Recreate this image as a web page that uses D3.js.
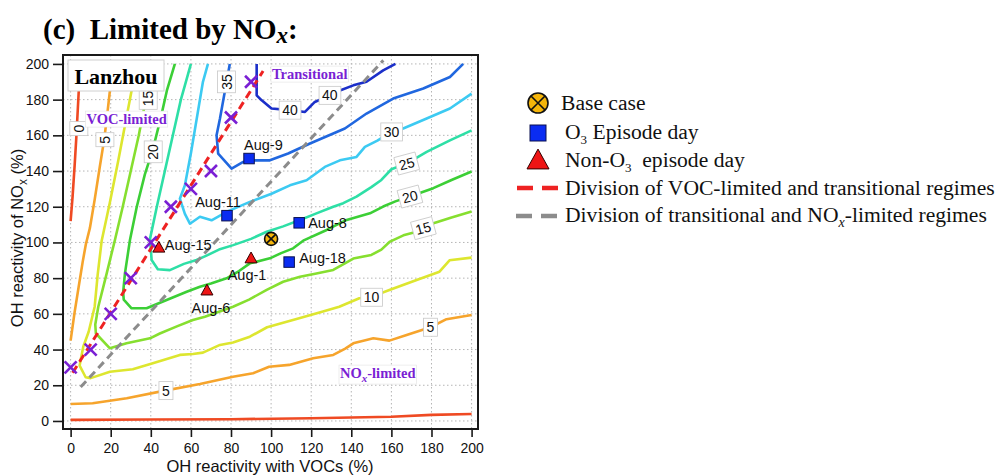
<!DOCTYPE html>
<html>
<head>
<meta charset="utf-8">
<script src="https://cdn.jsdelivr.net/npm/d3@7"></script>
<style>
  body { margin: 0; background: #fff; }
  svg { display: block; }
</style>
</head>
<body>
<div id="chart"></div>
<script>
// ---- data ----
const xTicks = [0, 20, 40, 60, 80, 100, 120, 140, 160, 180, 200];
const yTicks = [0, 20, 40, 60, 80, 100, 120, 140, 160, 180, 200];

// contour polylines, [OH reactivity with VOCs, OH reactivity of NOx]
const c0Left = [[0,112],[1,126],[2,143],[2.8,158],[3.6,175],[4.3,190],[5,200]];
const c0Bottom = [[0,0.6],[40,0.8],[80,1],[120,1.5],[160,2.4],[180,3.4],[200,3.9]];
const c5Left = [[0,45],[2,61],[4,75],[6,89],[7.6,99],[9.6,108],[12,124],[14.5,142],[16.8,158],[18.3,172],[19.6,185],[21.5,200]];
const c5Bottom = [[0,9.5],[11,9.9],[28,12.7],[47,17],[64.5,20.7],[81,24.8],[91,26.7],[99,30.4],[109,31.4],[121,35.1],[131,37],[137,40.5],[141,43.5],[151,46.3],[159,45],[167.6,48.2],[179.5,52.5],[187.5,57],[200,59.4]];
const c10 = [[33,200],[30.4,185],[27,165],[23.8,146],[19.5,122],[15.5,101],[13.5,82],[12,64],[9,50],[6.3,41.6],[5,34],[4.5,31],[7.5,24.5],[10,24],[19.6,27.6],[31,29],[41,32.3],[54.5,37],[61,37.5],[66,38.3],[74.5,42.6],[81,44],[89.4,47.2],[98,52.5],[106,55],[114,57.5],[125,61],[134,64],[144,68.7],[150,69.5],[159,73.4],[172.6,79],[184,83.6],[189,90],[200,91.5]];
const c15 = [[41,200],[37.5,180],[34,160],[30,140],[26,120],[22.1,101.4],[18,82.7],[13.8,64],[12.3,54],[12.6,49],[19.6,40.7],[27.9,43.5],[39.6,46.3],[44.5,49],[53,53],[61,56.6],[67,58.4],[81,64],[89,68],[97.8,73.4],[106,78],[114.4,80.8],[122,82.5],[131,84.6],[136.8,88.3],[141,91],[150,93],[155,96],[159.3,100.5],[166,104],[172.6,106],[181,110.7],[190,114],[200,117.3]];
const c20 = [[52,200],[48,185],[45,170],[41,152],[37,138],[33,120],[29.6,101.4],[27.1,82.7],[26.2,72],[26.5,68],[30.4,63.1],[37.9,63.1],[47.9,67.8],[57.9,72.4],[64.5,75.2],[70,77],[77.8,79.9],[84,84],[89.4,88.3],[99.4,91.1],[105,94],[111,96.7],[116,101],[127.7,107],[137.7,112.6],[149.3,116.3],[155.9,120.1],[162,123],[169.2,125.7],[180.9,130.4],[190,135],[200,139.7]];
const c25 = [[60,200],[57,188],[55,180],[51,160],[47,140],[43,120],[39.6,102],[40.4,90.2],[43.5,85],[49.5,84.5],[56.5,88],[62.8,90.2],[67.5,92.5],[74,96],[81.1,98.5],[90,102],[97.8,106],[106,109],[114.4,112.6],[122,116],[131,120],[136,122],[142.6,125.7],[150,131],[155,135],[160,141],[167.6,144.2],[177.6,150.7],[189.2,157.2],[200,162.8]];
const c30 = [[68.5,200],[66,190],[63,170],[60,150],[57,132],[54.5,124.5],[57,116],[59.5,110.5],[64.5,114.4],[70.3,112.4],[77.8,117.1],[89.4,122.7],[100.2,127.3],[109.4,132],[117.7,134.8],[126.8,142.3],[134.3,146],[142.6,147.9],[146.8,153.5],[153,157],[160.1,161.9],[165.9,163.8],[177.6,169.4],[189.2,175],[200,183.4]];
const c35 = [[79.4,200],[77.8,190],[74.5,169.4],[72.8,160],[73.6,149.8],[80.3,141.4],[86.1,145.1],[92,146],[99.4,146],[108.5,149.8],[119.4,155.4],[131,161],[136.8,163.8],[147.6,172.2],[160.9,180.6],[175.9,186.2],[189.2,192.7],[195.8,200]];
const c40 = [[92.8,200],[92.8,182.4],[95.3,179.6],[100.2,175],[109.4,174.1],[116.9,173.1],[121.8,178.7],[129.3,182.4],[134,185],[141,188],[147.6,190],[155.9,196.4],[162,200]];

// contour label: [level, x, y, rotation]
const contourLabels = [
  [0, 4.1, 163.7, -90], [5, 17.1, 157.5, -90], [15, 38.7, 180.6, -90], [20, 41.2, 150.7, -90],
  [35, 77.8, 189.9, -90], [40, 109.4, 174.1, 0], [40, 129.3, 182.4, 0], [30, 160.1, 161.9, 0],
  [25, 167.6, 144.2, -15], [20, 169.2, 125.7, -15], [15, 175.9, 108, -15],
  [10, 150.1, 69.3, 0], [5, 179.5, 52.5, 0], [5, 47.5, 17, 0]
];

// regime division lines
const vocDivision = [[1, 27], [96, 196]];
const noxDivision = [[5, 19], [156, 202]];

// isopleth ridge points (x markers)
const ridgePoints = [[0,30],[10,40],[20,60],[30,80],[40,100],[50,120],[60,130],[70,140],[80,170],[90,190]];

const baseCase = [100, 102];
const episodeDays = [["Aug-9", 89, 147], ["Aug-11", 78, 115], ["Aug-8", 114, 111], ["Aug-18", 109, 89]];
const nonEpisodeDays = [["Aug-15", 44, 97], ["Aug-1", 90, 91], ["Aug-6", 68, 73]];

// ---- drawing ----
const W = 1004, H = 475;
const plot = {left: 63, right: 478, top: 55, bottom: 429};

const levelColor = {0: "#ef4a23", 5: "#f6a42c", 10: "#dde62f", 15: "#86df2f", 20: "#3ccf36",
  25: "#2edfa6", 30: "#3ccaf2", 35: "#2067df", 40: "#1b2fc9"};

const contours = [
  {level: 0, pts: c0Left}, {level: 0, pts: c0Bottom},
  {level: 5, pts: c5Left}, {level: 5, pts: c5Bottom},
  {level: 10, pts: c10}, {level: 15, pts: c15}, {level: 20, pts: c20},
  {level: 25, pts: c25}, {level: 30, pts: c30}, {level: 35, pts: c35}, {level: 40, pts: c40}
];

const svg = d3.select("#chart").append("svg").attr("width", W).attr("height", H);

const x = d3.scaleLinear().domain([-3.8, 203.2]).range([plot.left, plot.right]);
const y = d3.scaleLinear().domain([-4.5, 205]).range([plot.bottom, plot.top]);

const sans = "'Liberation Sans', Arial, sans-serif";
const serif = "'Liberation Serif', 'Times New Roman', serif";

// title
const title = svg.append("text").attr("x", 43).attr("y", 39)
  .attr("font-family", serif).attr("font-weight", "bold").attr("font-size", 29)
  .style("white-space", "pre").attr("xml:space", "preserve");
title.append("tspan").text("(c)  Limited by NO");
title.append("tspan").attr("font-style", "italic").attr("font-size", 23).attr("dy", 4).text("x");
title.append("tspan").attr("dy", -4).text(":");

svg.append("defs").append("clipPath").attr("id", "clip")
  .append("rect").attr("x", plot.left).attr("y", plot.top)
  .attr("width", plot.right - plot.left).attr("height", plot.bottom - plot.top);

// grid
const grid = svg.append("g").attr("stroke", "#b5b5b5").attr("stroke-width", 1).attr("stroke-dasharray", "1.5,2.5");
grid.selectAll("line.gx").data(xTicks).join("line")
  .attr("x1", d => x(d)).attr("x2", d => x(d)).attr("y1", plot.top).attr("y2", plot.bottom);
grid.selectAll("line.gy").data(yTicks).join("line")
  .attr("y1", d => y(d)).attr("y2", d => y(d)).attr("x1", plot.left).attr("x2", plot.right);

const inner = svg.append("g").attr("clip-path", "url(#clip)");
const line = d3.line().x(d => x(d[0])).y(d => y(d[1]));

inner.selectAll("path.contour").data(contours).join("path")
  .attr("class", "contour")
  .attr("d", d => line(d.pts))
  .attr("fill", "none")
  .attr("stroke", d => levelColor[d.level])
  .attr("stroke-width", 2.6)
  .attr("stroke-linejoin", "round");

// division lines
inner.append("path").attr("d", line(noxDivision)).attr("fill", "none")
  .attr("stroke", "#8c8c8c").attr("stroke-width", 3).attr("stroke-dasharray", "8,5");
inner.append("path").attr("d", line(vocDivision)).attr("fill", "none")
  .attr("stroke", "#ee2222").attr("stroke-width", 3).attr("stroke-dasharray", "8,5");

// contour labels
const lab = inner.selectAll("g.clab").data(contourLabels).join("g")
  .attr("transform", d => `translate(${x(d[1])},${y(d[2])}) rotate(${d[3]})`);
lab.append("rect");
lab.append("text").text(d => d[0])
  .attr("text-anchor", "middle").attr("dy", "0.36em")
  .attr("font-family", sans).attr("font-size", 14).attr("fill", "#111");
lab.each(function () {
  const g = d3.select(this);
  const b = g.select("text").node().getBBox();
  g.select("rect").attr("x", b.x - 3).attr("y", -9).attr("width", b.width + 6).attr("height", 18)
    .attr("fill", "#fff").attr("stroke", "#c8c8c8").attr("stroke-width", 0.8);
});

// region labels
function boxedLabel(px, py, build) {
  const g = inner.append("g");
  const r = g.append("rect");
  const t = g.append("text").attr("x", px).attr("y", py).attr("dy", "0.35em")
    .attr("font-family", serif).attr("font-weight", "bold").attr("font-size", 14.5).attr("fill", "#7a1fd4");
  build(t);
  const b = t.node().getBBox();
  r.attr("x", b.x - 1).attr("y", b.y).attr("width", b.width + 2).attr("height", b.height)
    .attr("fill", "#fff").attr("stroke", "#e2e2e2").attr("stroke-width", 0.6);
}
boxedLabel(86.5, 119, t => t.text("VOC-limited"));
boxedLabel(272, 74, t => t.text("Transitional"));
boxedLabel(340, 373, t => {
  t.append("tspan").text("NO");
  t.append("tspan").attr("font-style", "italic").attr("font-size", 11).attr("dy", 4).text("x");
  t.append("tspan").attr("dy", -4).text("-limited");
});

// ridge x markers
const xm = inner.selectAll("g.xm").data(ridgePoints).join("g")
  .attr("transform", d => `translate(${x(d[0])},${y(d[1])})`)
  .attr("stroke", "#7a1fd4").attr("stroke-width", 2.6);
xm.append("line").attr("x1", -6).attr("y1", -6).attr("x2", 6).attr("y2", 6);
xm.append("line").attr("x1", -6).attr("y1", 6).attr("x2", 6).attr("y2", -6);

// markers
function drawCross(g, px, py, r) {
  g.append("circle").attr("cx", px).attr("cy", py).attr("r", r)
    .attr("fill", "#f5b50a").attr("stroke", "#111").attr("stroke-width", 1.6);
  const k = r * 0.7;
  g.append("path").attr("d", `M${px-k},${py-k}L${px+k},${py+k}M${px-k},${py+k}L${px+k},${py-k}`)
    .attr("stroke", "#111").attr("stroke-width", 1.6);
}
function drawSquare(g, px, py, s) {
  g.append("rect").attr("x", px - s / 2).attr("y", py - s / 2).attr("width", s).attr("height", s)
    .attr("fill", "#0a2cf2").attr("stroke", "#0a1150").attr("stroke-width", 1);
}
function drawTri(g, px, py, s) {
  const h = s * 0.9;
  g.append("path").attr("d", `M${px},${py-h*0.6}L${px+s/2},${py+h*0.4}L${px-s/2},${py+h*0.4}Z`)
    .attr("fill", "#ee1515").attr("stroke", "#300").attr("stroke-width", 1);
}

const mk = svg.append("g");
drawCross(mk, x(baseCase[0]), y(baseCase[1]), 6.5);
episodeDays.forEach(d => drawSquare(mk, x(d[1]), y(d[2]), 10.5));
nonEpisodeDays.forEach(d => drawTri(mk, x(d[1]), y(d[2]), 12));

// day labels, offset in pixels from each marker
const dayOffsets = {"Aug-9": [-5, -14, "start"], "Aug-11": [-9, -14, "middle"], "Aug-8": [9, 0, "start"],
  "Aug-18": [10, -4, "start"], "Aug-15": [6, -3, "start"], "Aug-1": [-4, 16, "middle"], "Aug-6": [4, 17, "middle"]};
episodeDays.concat(nonEpisodeDays).forEach(d => {
  const o = dayOffsets[d[0]];
  mk.append("text").attr("x", x(d[1]) + o[0]).attr("y", y(d[2]) + o[1]).attr("dy", "0.35em")
    .attr("text-anchor", o[2]).attr("font-family", sans).attr("font-size", 14.5).attr("fill", "#111")
    .text(d[0]);
});

// Lanzhou box
svg.append("rect").attr("x", 68).attr("y", 60).attr("width", 96).attr("height", 31)
  .attr("fill", "#fff").attr("stroke", "#d0d0d0").attr("stroke-width", 1);
svg.append("text").attr("x", 116).attr("y", 76).attr("dy", "0.35em").attr("text-anchor", "middle")
  .attr("font-family", serif).attr("font-weight", "bold").attr("font-size", 22).text("Lanzhou");

// frame
svg.append("rect").attr("x", plot.left).attr("y", plot.top)
  .attr("width", plot.right - plot.left).attr("height", plot.bottom - plot.top)
  .attr("fill", "none").attr("stroke", "#1a1a1a").attr("stroke-width", 2);

// axes
const xAxis = svg.append("g").attr("transform", `translate(0,${plot.bottom})`)
  .call(d3.axisBottom(x).tickValues(xTicks).tickSize(8).tickPadding(6));
const yAxis = svg.append("g").attr("transform", `translate(${plot.left},0)`)
  .call(d3.axisLeft(y).tickValues(yTicks).tickSize(10).tickPadding(4));
[xAxis, yAxis].forEach(a => {
  a.select(".domain").remove();
  a.selectAll(".tick line").attr("stroke", "#1a1a1a").attr("stroke-width", 1.6);
  a.selectAll(".tick text").attr("font-family", sans).attr("font-size", 14).attr("fill", "#111");
});

svg.append("text").attr("x", 270).attr("y", 472).attr("text-anchor", "middle")
  .attr("font-family", sans).attr("font-size", 16.5).attr("fill", "#111")
  .text("OH reactivity with VOCs (%)");
const yt = svg.append("text").attr("transform", "translate(23,238) rotate(-90)").attr("text-anchor", "middle")
  .attr("font-family", sans).attr("font-size", 16.5).attr("fill", "#111");
yt.append("tspan").text("OH reactivity of NO");
yt.append("tspan").attr("font-size", 12).attr("dy", 4).text("x");
yt.append("tspan").attr("dy", -4).text(" (%)");

// legend
const leg = svg.append("g").attr("font-family", serif).attr("font-size", 21.6).attr("fill", "#111");
const symX = 538;
drawCross(leg, symX, 103, 10);
leg.append("text").attr("x", 561).attr("y", 102).attr("dy", "0.35em").text("Base case");
drawSquare(leg, symX, 133, 16);
const t2 = leg.append("text").attr("x", 565).attr("y", 131).attr("dy", "0.35em");
t2.append("tspan").text("O");
t2.append("tspan").attr("font-size", 13).attr("dy", 5).text("3");
t2.append("tspan").attr("dy", -5).text(" Episode day");
drawTri(leg, symX, 161, 22);
const t3 = leg.append("text").attr("x", 565).attr("y", 159).attr("dy", "0.35em")
  .style("white-space", "pre").attr("xml:space", "preserve");
t3.append("tspan").text("Non-O");
t3.append("tspan").attr("font-size", 13).attr("dy", 5).text("3");
t3.append("tspan").attr("dy", -5).text("  episode day");
leg.append("line").attr("x1", 517).attr("x2", 559).attr("y1", 188).attr("y2", 188)
  .attr("stroke", "#ee2222").attr("stroke-width", 4.5).attr("stroke-dasharray", "16,9");
leg.append("text").attr("x", 565).attr("y", 187).attr("dy", "0.35em").text("Division of VOC-limited and transitional regimes");
leg.append("line").attr("x1", 516).attr("x2", 558).attr("y1", 216).attr("y2", 216)
  .attr("stroke", "#8c8c8c").attr("stroke-width", 4.5).attr("stroke-dasharray", "16,9");
const t5 = leg.append("text").attr("x", 565).attr("y", 214).attr("dy", "0.35em");
t5.append("tspan").text("Division of transitional and NO");
t5.append("tspan").attr("font-style", "italic").attr("font-size", 14).attr("dy", 5).text("x");
t5.append("tspan").attr("dy", -5).text("-limited regimes");
</script>
</body>
</html>
